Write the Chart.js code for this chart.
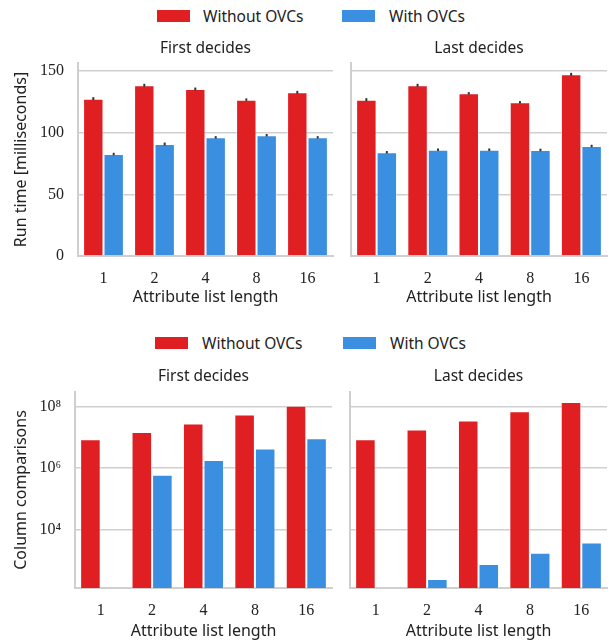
<!DOCTYPE html>
<html>
<head>
<meta charset="utf-8">
<script src="https://cdn.jsdelivr.net/npm/chart.js@4.4.1/dist/chart.umd.min.js"></script>
<style>
  body { margin: 0; background: #fff; }
  #fig { position: relative; width: 609px; height: 644px; font-family: "Noto Sans", sans-serif; color: #222; }
  canvas { position: absolute; }
  .key { position: absolute; height: 12px; width: 33px; }
  .lbl { position: absolute; font-size: 15.5px; line-height: 18px; }
</style>
</head>
<body>
<div id="fig">
  <div class="key" style="left:157px;top:10px;background:#df1f22"></div>
  <div class="lbl" style="left:203px;top:7px">Without OVCs</div>
  <div class="key" style="left:342px;top:10px;background:#3a8fe1"></div>
  <div class="lbl" style="left:389px;top:7px">With OVCs</div>

  <div class="key" style="left:155px;top:337px;background:#df1f22"></div>
  <div class="lbl" style="left:202px;top:334px">Without OVCs</div>
  <div class="key" style="left:343px;top:337px;background:#3a8fe1"></div>
  <div class="lbl" style="left:390px;top:334px">With OVCs</div>

  <canvas id="tl" width="340" height="320" style="left:0;top:0"></canvas>
  <canvas id="tr" width="269" height="320" style="left:340px;top:0"></canvas>
  <canvas id="bl" width="340" height="324" style="left:0;top:320px"></canvas>
  <canvas id="br" width="269" height="324" style="left:340px;top:320px"></canvas>
</div>
<script>
// categories
const lengths = ['1', '2', '4', '8', '16'];
const seriesNames = ['Without OVCs', 'With OVCs'];

// run time (ms), first decides
const timeFirstWithout = [127.6, 138.4, 135.4, 126.8, 132.7];
const timeFirstWith = [82.7, 90.8, 96.2, 97.9, 96.2];
// run time (ms), last decides
const timeLastWithout = [126.8, 138.4, 131.9, 124.6, 147.3];
const timeLastWith = [84.1, 86.2, 86.2, 86.0, 89.2];
// error bar half-heights
const errFirstWithout = [1.2, 1.2, 1.2, 1.0, 1.2];
const errFirstWith = [1.0, 1.2, 1.0, 1.0, 1.0];
const errLastWithout = [1.2, 1.2, 1.0, 1.0, 1.2];
const errLastWith = [1.0, 1.0, 1.0, 1.0, 1.0];

// column comparisons
const cmpFirstWithout = [8.6e6, 1.49e7, 2.76e7, 5.4e7, 1.05e8];
const cmpFirstWith = [null, 6.1e5, 1.86e6, 4.3e6, 9.3e6];
const cmpLastWithout = [8.6e6, 1.77e7, 3.45e7, 6.9e7, 1.38e8];
const cmpLastWith = [null, 262, 800, 1850, 4010];

const timeTicks = [0, 50, 100, 150];
const logTicks = [1e4, 1e6, 1e8];

const red = '#df1f22';
const blue = '#3a8fe1';
const gridColor = '#cfcfcf';
const textColor = '#222';
const serif = '"Liberation Serif", serif';
const sans = '"Noto Sans", sans-serif';

// draws the subplot title centred over the plot area
const panelTitle = {
    id: 'panelTitle',
    afterDraw(chart, args, opts) {
        const ctx = chart.ctx;
        const a = chart.chartArea;
        ctx.save();
        ctx.font = '15.5px ' + sans;
        ctx.fillStyle = textColor;
        ctx.textAlign = 'center';
        ctx.textBaseline = 'middle';
        ctx.fillText(opts.text, (a.left + a.right) / 2, a.top - opts.gap);
        ctx.restore();
    }
};

// small black error bars on top of the run time bars
const errorBars = {
    id: 'errorBars',
    afterDatasetsDraw(chart, args, opts) {
        if (!opts.errors) return;
        const ctx = chart.ctx;
        const y = chart.scales.y;
        ctx.save();
        ctx.strokeStyle = '#333';
        ctx.lineWidth = 2;
        chart.data.datasets.forEach((ds, i) => {
            chart.getDatasetMeta(i).data.forEach((bar, j) => {
                const v = ds.data[j];
                const e = opts.errors[i][j];
                ctx.beginPath();
                ctx.moveTo(bar.x, y.getPixelForValue(v - e));
                ctx.lineTo(bar.x, y.getPixelForValue(v + e));
                ctx.stroke();
            });
        });
        ctx.restore();
    }
};

function makePanel(id, cfg) {
    const datasets = [
        { label: seriesNames[0], data: cfg.without, backgroundColor: red,
          borderColor: 'rgba(255,255,255,0.45)', borderWidth: 1 },
        { label: seriesNames[1], data: cfg.withOvc, backgroundColor: blue,
          borderColor: 'rgba(255,255,255,0.45)', borderWidth: 1 }
    ];

    const yScale = {
        type: cfg.log ? 'logarithmic' : 'linear',
        min: cfg.min,
        max: cfg.max,
        grid: { color: gridColor, lineWidth: 1.5, drawTicks: false },
        border: { display: true, color: gridColor, width: 2 },
        ticks: {
            display: cfg.showY,
            padding: 14,
            color: textColor,
            font: { family: serif, size: 16 },
            callback: v => cfg.log ? '10' + sup(Math.round(Math.log10(v))) : v
        },
        afterBuildTicks: s => { s.ticks = cfg.ticks.map(v => ({ value: v })); },
        afterFit: s => { s.width = cfg.yWidth; },
        title: {
            display: cfg.showY,
            text: cfg.yTitle,
            color: textColor,
            font: { family: sans, size: 16 },
            padding: { top: 12, bottom: 0 }
        }
    };

    return new Chart(document.getElementById(id), {
        type: 'bar',
        data: { labels: lengths, datasets: datasets },
        options: {
            responsive: false,
            animation: false,
            layout: { padding: cfg.padding },
            datasets: { bar: { categoryPercentage: 0.8, barPercentage: 1.0 } },
            scales: {
                x: {
                    grid: { display: false, drawTicks: false },
                    border: { display: true, color: gridColor, width: 2 },
                    ticks: { padding: 13, color: textColor, font: { family: serif, size: 16 } },
                    title: {
                        display: true,
                        text: 'Attribute list length',
                        color: textColor,
                        font: { family: sans, size: 16 },
                        padding: { top: 0, bottom: 0 }
                    },
                    afterFit: s => { s.height = cfg.xHeight; }
                },
                y: yScale
            },
            plugins: {
                legend: { display: false },
                tooltip: { enabled: false },
                panelTitle: { text: cfg.title, gap: cfg.titleGap },
                errorBars: { errors: cfg.errors }
            }
        },
        plugins: [panelTitle, errorBars]
    });
}

function sup(n) {
    const map = { '0': '\u2070', '1': '\u00b9', '2': '\u00b2', '3': '\u00b3', '4': '\u2074',
                  '5': '\u2075', '6': '\u2076', '7': '\u2077', '8': '\u2078', '9': '\u2079' };
    return String(n).split('').map(c => map[c]).join('');
}

makePanel('tl', {
    without: timeFirstWithout, withOvc: timeFirstWith,
    errors: [errFirstWithout, errFirstWith],
    min: 0, max: 156.5, ticks: timeTicks, log: false,
    showY: true, yTitle: 'Run time [milliseconds]', yWidth: 78,
    padding: { top: 63, right: 7, left: 0, bottom: 13 }, xHeight: 51,
    title: 'First decides', titleGap: 14
});
makePanel('tr', {
    without: timeLastWithout, withOvc: timeLastWith,
    errors: [errLastWithout, errLastWith],
    min: 0, max: 156.5, ticks: timeTicks, log: false,
    showY: false, yTitle: '', yWidth: 11,
    padding: { top: 63, right: 2, left: 0, bottom: 13 }, xHeight: 51,
    title: 'Last decides', titleGap: 14
});
makePanel('bl', {
    without: cmpFirstWithout, withOvc: cmpFirstWith,
    errors: null,
    min: 135, max: 2.9e8, ticks: logTicks, log: true,
    showY: true, yTitle: 'Column comparisons', yWidth: 75,
    padding: { top: 72, right: 8, left: 0, bottom: 3 }, xHeight: 53,
    title: 'First decides', titleGap: 15
});
makePanel('br', {
    without: cmpLastWithout, withOvc: cmpLastWith,
    errors: null,
    min: 135, max: 2.9e8, ticks: logTicks, log: true,
    showY: false, yTitle: '', yWidth: 10,
    padding: { top: 72, right: 2, left: 0, bottom: 3 }, xHeight: 53,
    title: 'Last decides', titleGap: 15
});
</script>
</body>
</html>
